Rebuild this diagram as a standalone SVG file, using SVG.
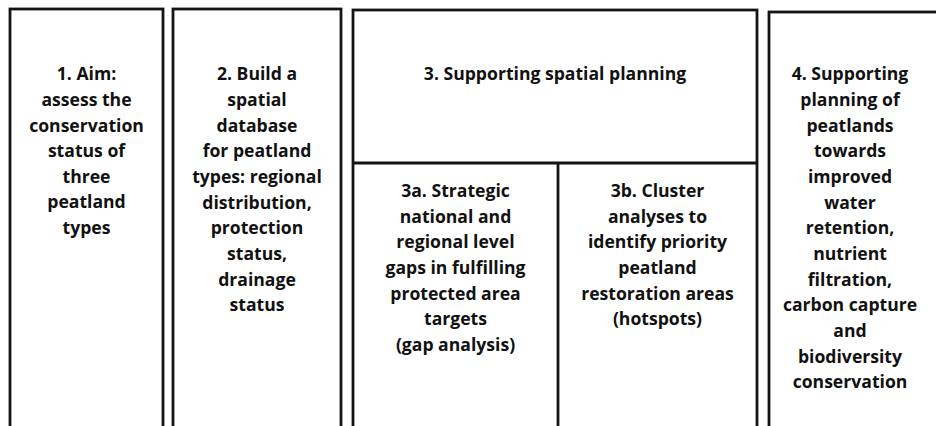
<svg xmlns="http://www.w3.org/2000/svg" width="936" height="426" viewBox="0 0 936 426">
<style>
rect.b{fill:#fff;stroke:#141414;stroke-width:2.8}
line.d{stroke:#141414;stroke-width:2.8}
text{font-family:"Open Sans","Liberation Sans",sans-serif;font-weight:bold;font-size:17.6px;fill:#111;text-anchor:middle}
</style>
<rect width="936" height="426" fill="#fff"/>
<g id="node1">
<rect class="b" x="10" y="9" width="153" height="430"/>
<text x="86.5"><tspan x="86.5" y="80">1. Aim:</tspan><tspan x="86.5" y="106">assess the</tspan><tspan x="86.5" y="132">conservation</tspan><tspan x="86.5" y="157">status of</tspan><tspan x="86.5" y="183">three</tspan><tspan x="86.5" y="208">peatland</tspan><tspan x="86.5" y="234">types</tspan></text>
</g>
<g id="node2">
<rect class="b" x="173" y="9" width="168" height="430"/>
<text x="257"><tspan x="257" y="80">2. Build a</tspan><tspan x="257" y="106">spatial</tspan><tspan x="257" y="132">database</tspan><tspan x="257" y="157">for peatland</tspan><tspan x="257" y="183">types: regional</tspan><tspan x="257" y="209">distribution,</tspan><tspan x="257" y="234">protection</tspan><tspan x="257" y="260">status,</tspan><tspan x="257" y="286">drainage</tspan><tspan x="257" y="311">status</tspan></text>
</g>
<g id="node3">
<rect class="b" x="353" y="10" width="404" height="430"/>
<text x="555" y="80">3. Supporting spatial planning</text>
</g>
<g id="node3a">
<text x="455.5"><tspan x="455.5" y="197">3a. Strategic</tspan><tspan x="455.5" y="223">national and</tspan><tspan x="455.5" y="248">regional level</tspan><tspan x="455.5" y="274">gaps in fulfilling</tspan><tspan x="455.5" y="300">protected area</tspan><tspan x="455.5" y="325">targets</tspan><tspan x="455.5" y="351">(gap analysis)</tspan></text>
</g>
<g id="node3b">
<text x="657.5"><tspan x="657.5" y="197">3b. Cluster</tspan><tspan x="657.5" y="223">analyses to</tspan><tspan x="657.5" y="248">identify priority</tspan><tspan x="657.5" y="274">peatland</tspan><tspan x="657.5" y="300">restoration areas</tspan><tspan x="657.5" y="325">(hotspots)</tspan></text>
</g>
<g id="node4">
<rect class="b" x="769" y="12" width="180" height="430"/>
<text x="850"><tspan x="850" y="80">4. Supporting</tspan><tspan x="850" y="106">planning of</tspan><tspan x="850" y="132">peatlands</tspan><tspan x="850" y="157">towards</tspan><tspan x="850" y="183">improved</tspan><tspan x="850" y="209">water</tspan><tspan x="850" y="234">retention,</tspan><tspan x="850" y="260">nutrient</tspan><tspan x="850" y="286">filtration,</tspan><tspan x="850" y="311">carbon capture</tspan><tspan x="850" y="337">and</tspan><tspan x="850" y="363">biodiversity</tspan><tspan x="850" y="388">conservation</tspan></text>
</g>
<g id="connectors">
<line class="d" x1="353" y1="163" x2="757" y2="163"/>
<line class="d" x1="558" y1="163" x2="558" y2="440"/>
</g>
</svg>
